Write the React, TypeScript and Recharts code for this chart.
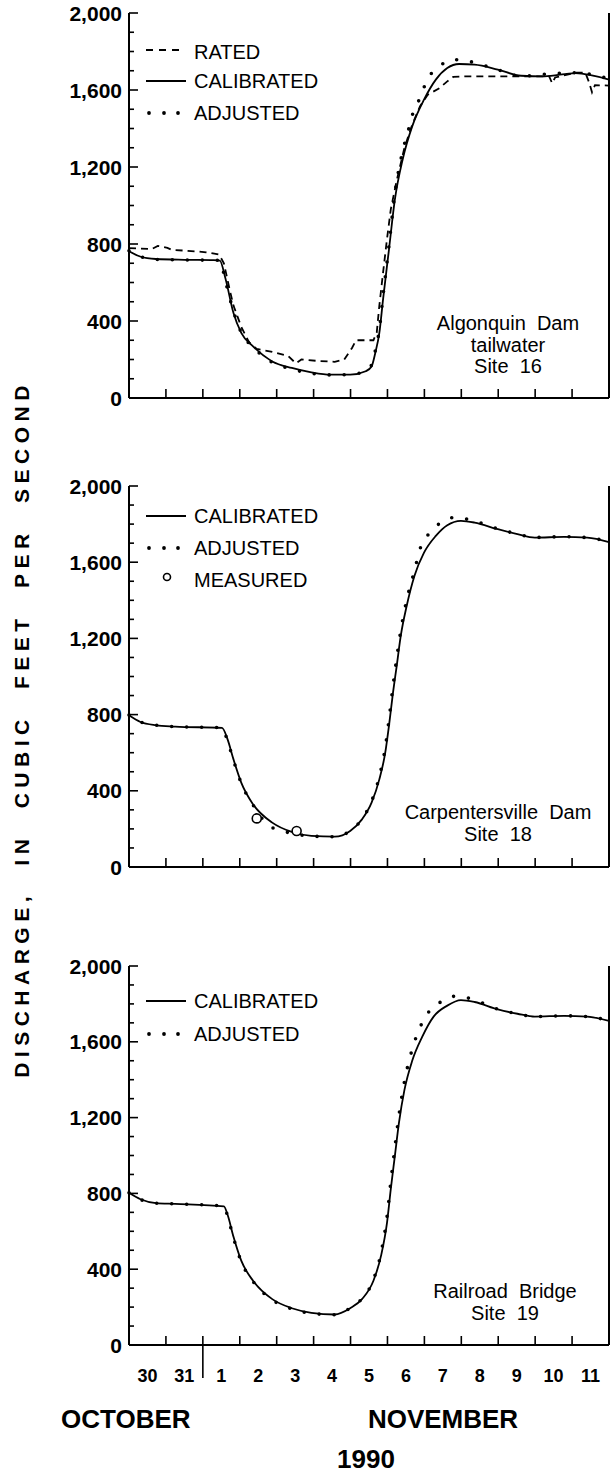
import React from "react";
import { ComposedChart, Line, XAxis, YAxis } from "recharts";

// x = days since Oct 30 00:00, y = discharge (cfs)
const dayBounds = [0, 1, 2, 3, 4, 5, 6, 7, 8, 9, 10, 11, 12, 13];
const dayMids = [0.5, 1.5, 2.5, 3.5, 4.5, 5.5, 6.5, 7.5, 8.5, 9.5, 10.5, 11.5, 12.5];
const dayLabels = ["30", "31", "1", "2", "3", "4", "5", "6", "7", "8", "9", "10", "11"];
const qTicks = [0, 100, 200, 300, 400, 500, 600, 700, 800, 900, 1000, 1100, 1200, 1300, 1400, 1500, 1600, 1700, 1800, 1900, 2000];

// Site 16 - Algonquin Dam tailwater
const s16RatedDays = [0, 0.62, 0.78, 1.04, 1.15, 1.78, 2.09, 2.31, 2.44, 2.57, 2.73, 2.83, 3.04, 3.25, 3.46, 3.88, 4.31, 4.52, 4.67, 5.15, 5.57, 5.83, 6.04, 6.15, 6.62, 6.71, 6.78, 6.88, 6.99, 7.09, 7.25, 7.46, 7.67, 7.88, 8.09, 8.41, 8.62, 8.78, 9.15, 10.2, 11.38, 11.46, 11.54, 12.09, 12.36, 12.46, 12.54, 12.62, 13];
const s16Rated = [779, 774, 790, 780, 770, 762, 757, 750, 745, 700, 560, 480, 370, 290, 255, 240, 218, 180, 200, 192, 188, 200, 260, 300, 300, 340, 480, 650, 830, 980, 1130, 1300, 1420, 1515, 1575, 1610, 1645, 1668, 1671, 1671, 1671, 1635, 1665, 1690, 1690, 1640, 1588, 1625, 1623];
const s16CalDays = [0, 0.3, 0.73, 1.5, 2.3, 2.46, 2.62, 2.83, 3.04, 3.36, 3.88, 4.41, 4.94, 5.46, 5.99, 6.41, 6.57, 6.67, 6.78, 6.88, 7.04, 7.2, 7.41, 7.67, 7.99, 8.31, 8.62, 8.94, 9.36, 9.99, 10.62, 11.25, 12.09, 13];
const s16Cal = [762, 735, 722, 718, 716, 714, 615, 441, 338, 268, 190, 156, 133, 121, 121, 139, 164, 234, 338, 511, 770, 1030, 1238, 1411, 1550, 1654, 1714, 1735, 1732, 1706, 1674, 1671, 1688, 1654];
const s16AdjDays = [0, 0.3, 0.73, 1.5, 2.3, 2.46, 2.62, 2.83, 3.04, 3.36, 3.88, 4.41, 4.94, 5.46, 5.99, 6.41, 6.57, 6.67, 6.78, 6.88, 7.04, 7.2, 7.41, 7.57, 7.67, 7.86, 8.09, 8.41, 8.78, 9.25, 9.99, 10.62, 11.25, 12.09, 13];
const s16Adj = [765, 736, 720, 717, 716, 714, 600, 450, 340, 265, 185, 150, 128, 120, 122, 140, 172, 245, 355, 530, 790, 1060, 1280, 1394, 1467, 1550, 1657, 1723, 1758, 1747, 1705, 1672, 1682, 1690, 1658];

// Site 18 - Carpentersville Dam
const s18CalDays = [0, 0.31, 0.73, 1.25, 2.52, 2.67, 2.83, 3.04, 3.36, 3.88, 4.41, 4.94, 5.57, 5.99, 6.31, 6.57, 6.78, 6.94, 7.04, 7.15, 7.25, 7.36, 7.52, 7.73, 7.99, 8.31, 8.62, 8.99, 9.36, 9.99, 10.52, 10.99, 11.78, 12.41, 13];
const s18Cal = [796, 761, 744, 737, 730, 670, 565, 443, 329, 233, 184, 163, 159, 189, 250, 338, 460, 600, 740, 915, 1055, 1213, 1370, 1528, 1650, 1738, 1794, 1817, 1808, 1773, 1747, 1729, 1733, 1729, 1706];
const s18AdjDays = [0, 0.31, 0.73, 1.25, 2.52, 2.67, 2.83, 3.04, 3.36, 3.78, 4.25, 4.94, 5.57, 5.99, 6.31, 6.57, 6.78, 6.94, 7.04, 7.15, 7.25, 7.36, 7.52, 7.73, 7.88, 8.09, 8.41, 8.81, 9.25, 9.99, 10.52, 10.99, 11.78, 12.41, 13];
const s18Adj = [798, 762, 745, 737, 731, 660, 560, 440, 325, 219, 184, 162, 159, 190, 252, 345, 475, 625, 770, 950, 1095, 1240, 1400, 1554, 1668, 1741, 1803, 1834, 1822, 1775, 1748, 1730, 1734, 1729, 1708];
const s18MeasDays = [3.46, 4.54];
const s18Meas = [255, 189];

// Site 19 - Railroad Bridge
const s19CalDays = [0, 0.31, 0.73, 1.25, 2.57, 2.67, 2.83, 3.04, 3.36, 3.88, 4.41, 4.94, 5.57, 5.99, 6.31, 6.62, 6.83, 6.99, 7.09, 7.2, 7.31, 7.46, 7.67, 7.94, 8.25, 8.62, 8.99, 9.36, 9.99, 10.52, 10.99, 11.78, 12.41, 13];
const s19Cal = [803, 769, 749, 745, 732, 687, 571, 445, 339, 242, 194, 170, 161, 194, 242, 339, 474, 649, 823, 997, 1171, 1346, 1500, 1626, 1733, 1791, 1820, 1810, 1771, 1748, 1733, 1737, 1733, 1710];
const s19AdjDays = [0, 0.31, 0.73, 1.25, 2.57, 2.67, 2.83, 3.04, 3.36, 3.88, 4.41, 4.94, 5.57, 5.99, 6.31, 6.62, 6.83, 6.99, 7.09, 7.2, 7.31, 7.46, 7.67, 7.88, 8.09, 8.41, 8.81, 9.25, 9.99, 10.52, 10.99, 11.78, 12.41, 13];
const s19Adj = [803, 768, 748, 745, 733, 680, 565, 440, 335, 238, 190, 167, 160, 195, 245, 345, 490, 680, 860, 1040, 1210, 1390, 1560, 1675, 1750, 1806, 1840, 1828, 1772, 1748, 1733, 1737, 1733, 1712];

const FONT = "'Liberation Sans', Arial, Helvetica, sans-serif";
const INK = "#000";

type Pt = { d: number; q: number };
const pts = (days: number[], q: number[]): Pt[] => days.map((d, i) => ({ d, q: q[i] }));

type Series = { data: Pt[]; kind: "solid" | "dash" | "dot" | "circle" };

const fmtQ = (v: number) => v.toLocaleString("en-US");

function LeftTick(p: any) {
  const v = p.payload.value;
  const major = v % 400 === 0;
  return (
    <g>
      <line x1={p.x} x2={p.x + (major ? 9 : 5)} y1={p.y} y2={p.y} stroke={INK} strokeWidth={1.6} />
      {major && (
        <text x={p.x - 7} y={p.y} dy="0.36em" textAnchor="end" fontFamily={FONT} fontWeight="bold" fontSize={21} fill={INK}>
          {fmtQ(v)}
        </text>
      )}
    </g>
  );
}

function RightTick(p: any) {
  const major = p.payload.value % 400 === 0;
  return <line x1={p.x} x2={p.x - (major ? 9 : 5)} y1={p.y} y2={p.y} stroke={INK} strokeWidth={1.6} />;
}

function TopTick(p: any) {
  return <line x1={p.x} x2={p.x} y1={p.y} y2={p.y + 9} stroke={INK} strokeWidth={1.6} />;
}

function makeBottomTick(showDays: boolean) {
  return (p: any) => {
    const v = p.payload.value;
    if (Number.isInteger(v)) {
      const down = showDays && v === 2 ? 33 : 0;
      return <line x1={p.x} x2={p.x} y1={p.y - 9} y2={p.y + down} stroke={INK} strokeWidth={1.6} />;
    }
    const i = dayMids.indexOf(v);
    return (
      <text x={p.x} y={p.y + 37} textAnchor="middle" fontFamily={FONT} fontWeight="bold" fontSize={18} fill={INK}>
        {dayLabels[i]}
      </text>
    );
  };
}

function Panel({ top, plotH, series, showDays }: { top: number; plotH: number; series: Series[]; showDays: boolean }) {
  const mTop = 12;
  const axisH = showDays ? 50 : 16;
  const bottomTicks = showDays ? [...dayBounds, ...dayMids].sort((a, b) => a - b) : dayBounds;
  return (
    <div style={{ position: "absolute", left: 0, top: top - mTop }}>
      <ComposedChart width={611} height={mTop + plotH + axisH} margin={{ top: mTop, right: 1, bottom: 0, left: 0 }}>
        <XAxis xAxisId="b" dataKey="d" type="number" domain={[0, 13]} ticks={bottomTicks} interval={0}
          height={axisH} tickSize={0} tickMargin={0} tickLine={false}
          axisLine={{ stroke: INK, strokeWidth: 2 }} tick={makeBottomTick(showDays)} />
        <XAxis xAxisId="t" orientation="top" dataKey="d" type="number" domain={[0, 13]} ticks={dayBounds} interval={0}
          height={0} tickSize={0} tickMargin={0} tickLine={false}
          axisLine={{ stroke: INK, strokeWidth: 2 }} tick={TopTick} />
        <YAxis yAxisId="l" type="number" domain={[0, 2000]} ticks={qTicks} interval={0} width={129}
          tickSize={0} tickMargin={0} tickLine={false} axisLine={{ stroke: INK, strokeWidth: 2 }} tick={LeftTick} />
        <YAxis yAxisId="r" orientation="right" type="number" domain={[0, 2000]} ticks={qTicks} interval={0} width={1}
          tickSize={0} tickMargin={0} tickLine={false} axisLine={{ stroke: INK, strokeWidth: 2 }} tick={RightTick} />
        {series.map((s, i) => {
          if (s.kind === "circle") {
            return (
              <Line key={i} xAxisId="b" yAxisId="l" data={s.data} dataKey="q" stroke="none" isAnimationActive={false}
                dot={{ r: 4.5, fill: "#fff", stroke: INK, strokeWidth: 1.6 }} activeDot={false} />
            );
          }
          return (
            <Line key={i} xAxisId="b" yAxisId="l" data={s.data} dataKey="q"
              type={s.kind === "dash" ? "linear" : "monotone"}
              stroke={INK}
              strokeWidth={s.kind === "dot" ? 3.6 : 1.8}
              strokeDasharray={s.kind === "dash" ? "7 5" : s.kind === "dot" ? "0 15" : undefined}
              strokeLinecap={s.kind === "dot" ? "round" : "butt"}
              dot={false} activeDot={false} isAnimationActive={false} />
          );
        })}
      </ComposedChart>
    </div>
  );
}

const txt = { fontFamily: FONT, fill: INK } as const;

function LegendRow({ y, kind, label }: { y: number; kind: Series["kind"]; label: string }) {
  const mark = y - 7;
  return (
    <g>
      {kind === "solid" && <line x1={146} x2={186} y1={mark} y2={mark} stroke={INK} strokeWidth={1.8} />}
      {kind === "dash" && <line x1={146} x2={182} y1={mark - 2} y2={mark - 2} stroke={INK} strokeWidth={1.8} strokeDasharray="7 6" />}
      {kind === "dot" &&
        [149, 164, 178].map((x) => <circle key={x} cx={x} cy={mark} r={1.9} fill={INK} />)}
      {kind === "circle" && <circle cx={167} cy={y - 10} r={3.5} fill="none" stroke={INK} strokeWidth={1.6} />}
      <text x={194} y={y} fontSize={20} {...txt}>{label}</text>
    </g>
  );
}

function SiteLabel({ cx, y, lines }: { cx: number; y: number; lines: string[] }) {
  return (
    <g>
      {lines.map((l, i) => (
        <text key={i} x={cx} y={y + i * 21.5} textAnchor="middle" fontSize={20} style={{ whiteSpace: "pre" }} {...txt}>
          {l}
        </text>
      ))}
    </g>
  );
}

export default function App() {
  const p16: Series[] = [
    { data: pts(s16RatedDays, s16Rated), kind: "dash" },
    { data: pts(s16CalDays, s16Cal), kind: "solid" },
    { data: pts(s16AdjDays, s16Adj), kind: "dot" },
  ];
  const p18: Series[] = [
    { data: pts(s18CalDays, s18Cal), kind: "solid" },
    { data: pts(s18AdjDays, s18Adj), kind: "dot" },
    { data: pts(s18MeasDays, s18Meas), kind: "circle" },
  ];
  const p19: Series[] = [
    { data: pts(s19CalDays, s19Cal), kind: "solid" },
    { data: pts(s19AdjDays, s19Adj), kind: "dot" },
  ];

  return (
    <div style={{ position: "relative", width: 611, height: 1475, background: "#fff", overflow: "hidden" }}>
      <style>{"body{margin:0;background:#fff}"}</style>
      <Panel top={13} plotH={385} series={p16} showDays={false} />
      <Panel top={486} plotH={381} series={p18} showDays={false} />
      <Panel top={966} plotH={379} series={p19} showDays={true} />
      <svg width={611} height={1475} style={{ position: "absolute", left: 0, top: 0, pointerEvents: "none" }}>
        <LegendRow y={59} kind="dash" label="RATED" />
        <LegendRow y={88} kind="solid" label="CALIBRATED" />
        <LegendRow y={120} kind="dot" label="ADJUSTED" />
        <SiteLabel cx={508} y={330} lines={["Algonquin  Dam", "tailwater", "Site  16"]} />

        <LegendRow y={523} kind="solid" label="CALIBRATED" />
        <LegendRow y={555} kind="dot" label="ADJUSTED" />
        <LegendRow y={587} kind="circle" label="MEASURED" />
        <SiteLabel cx={498} y={819} lines={["Carpentersville  Dam", "Site  18"]} />

        <LegendRow y={1008} kind="solid" label="CALIBRATED" />
        <LegendRow y={1041} kind="dot" label="ADJUSTED" />
        <SiteLabel cx={505} y={1298} lines={["Railroad  Bridge", "Site  19"]} />

        <text transform="translate(29,729) rotate(-90)" textAnchor="middle" fontSize={21} fontWeight="bold"
          letterSpacing={5.5} wordSpacing={14} {...txt}>
          DISCHARGE, IN CUBIC FEET PER SECOND
        </text>
        <text x={61} y={1428} fontSize={26} fontWeight="bold" {...txt}>OCTOBER</text>
        <text x={443} y={1428} textAnchor="middle" fontSize={26} fontWeight="bold" {...txt}>NOVEMBER</text>
        <text x={366} y={1468} textAnchor="middle" fontSize={26} fontWeight="bold" {...txt}>1990</text>
      </svg>
    </div>
  );
}
